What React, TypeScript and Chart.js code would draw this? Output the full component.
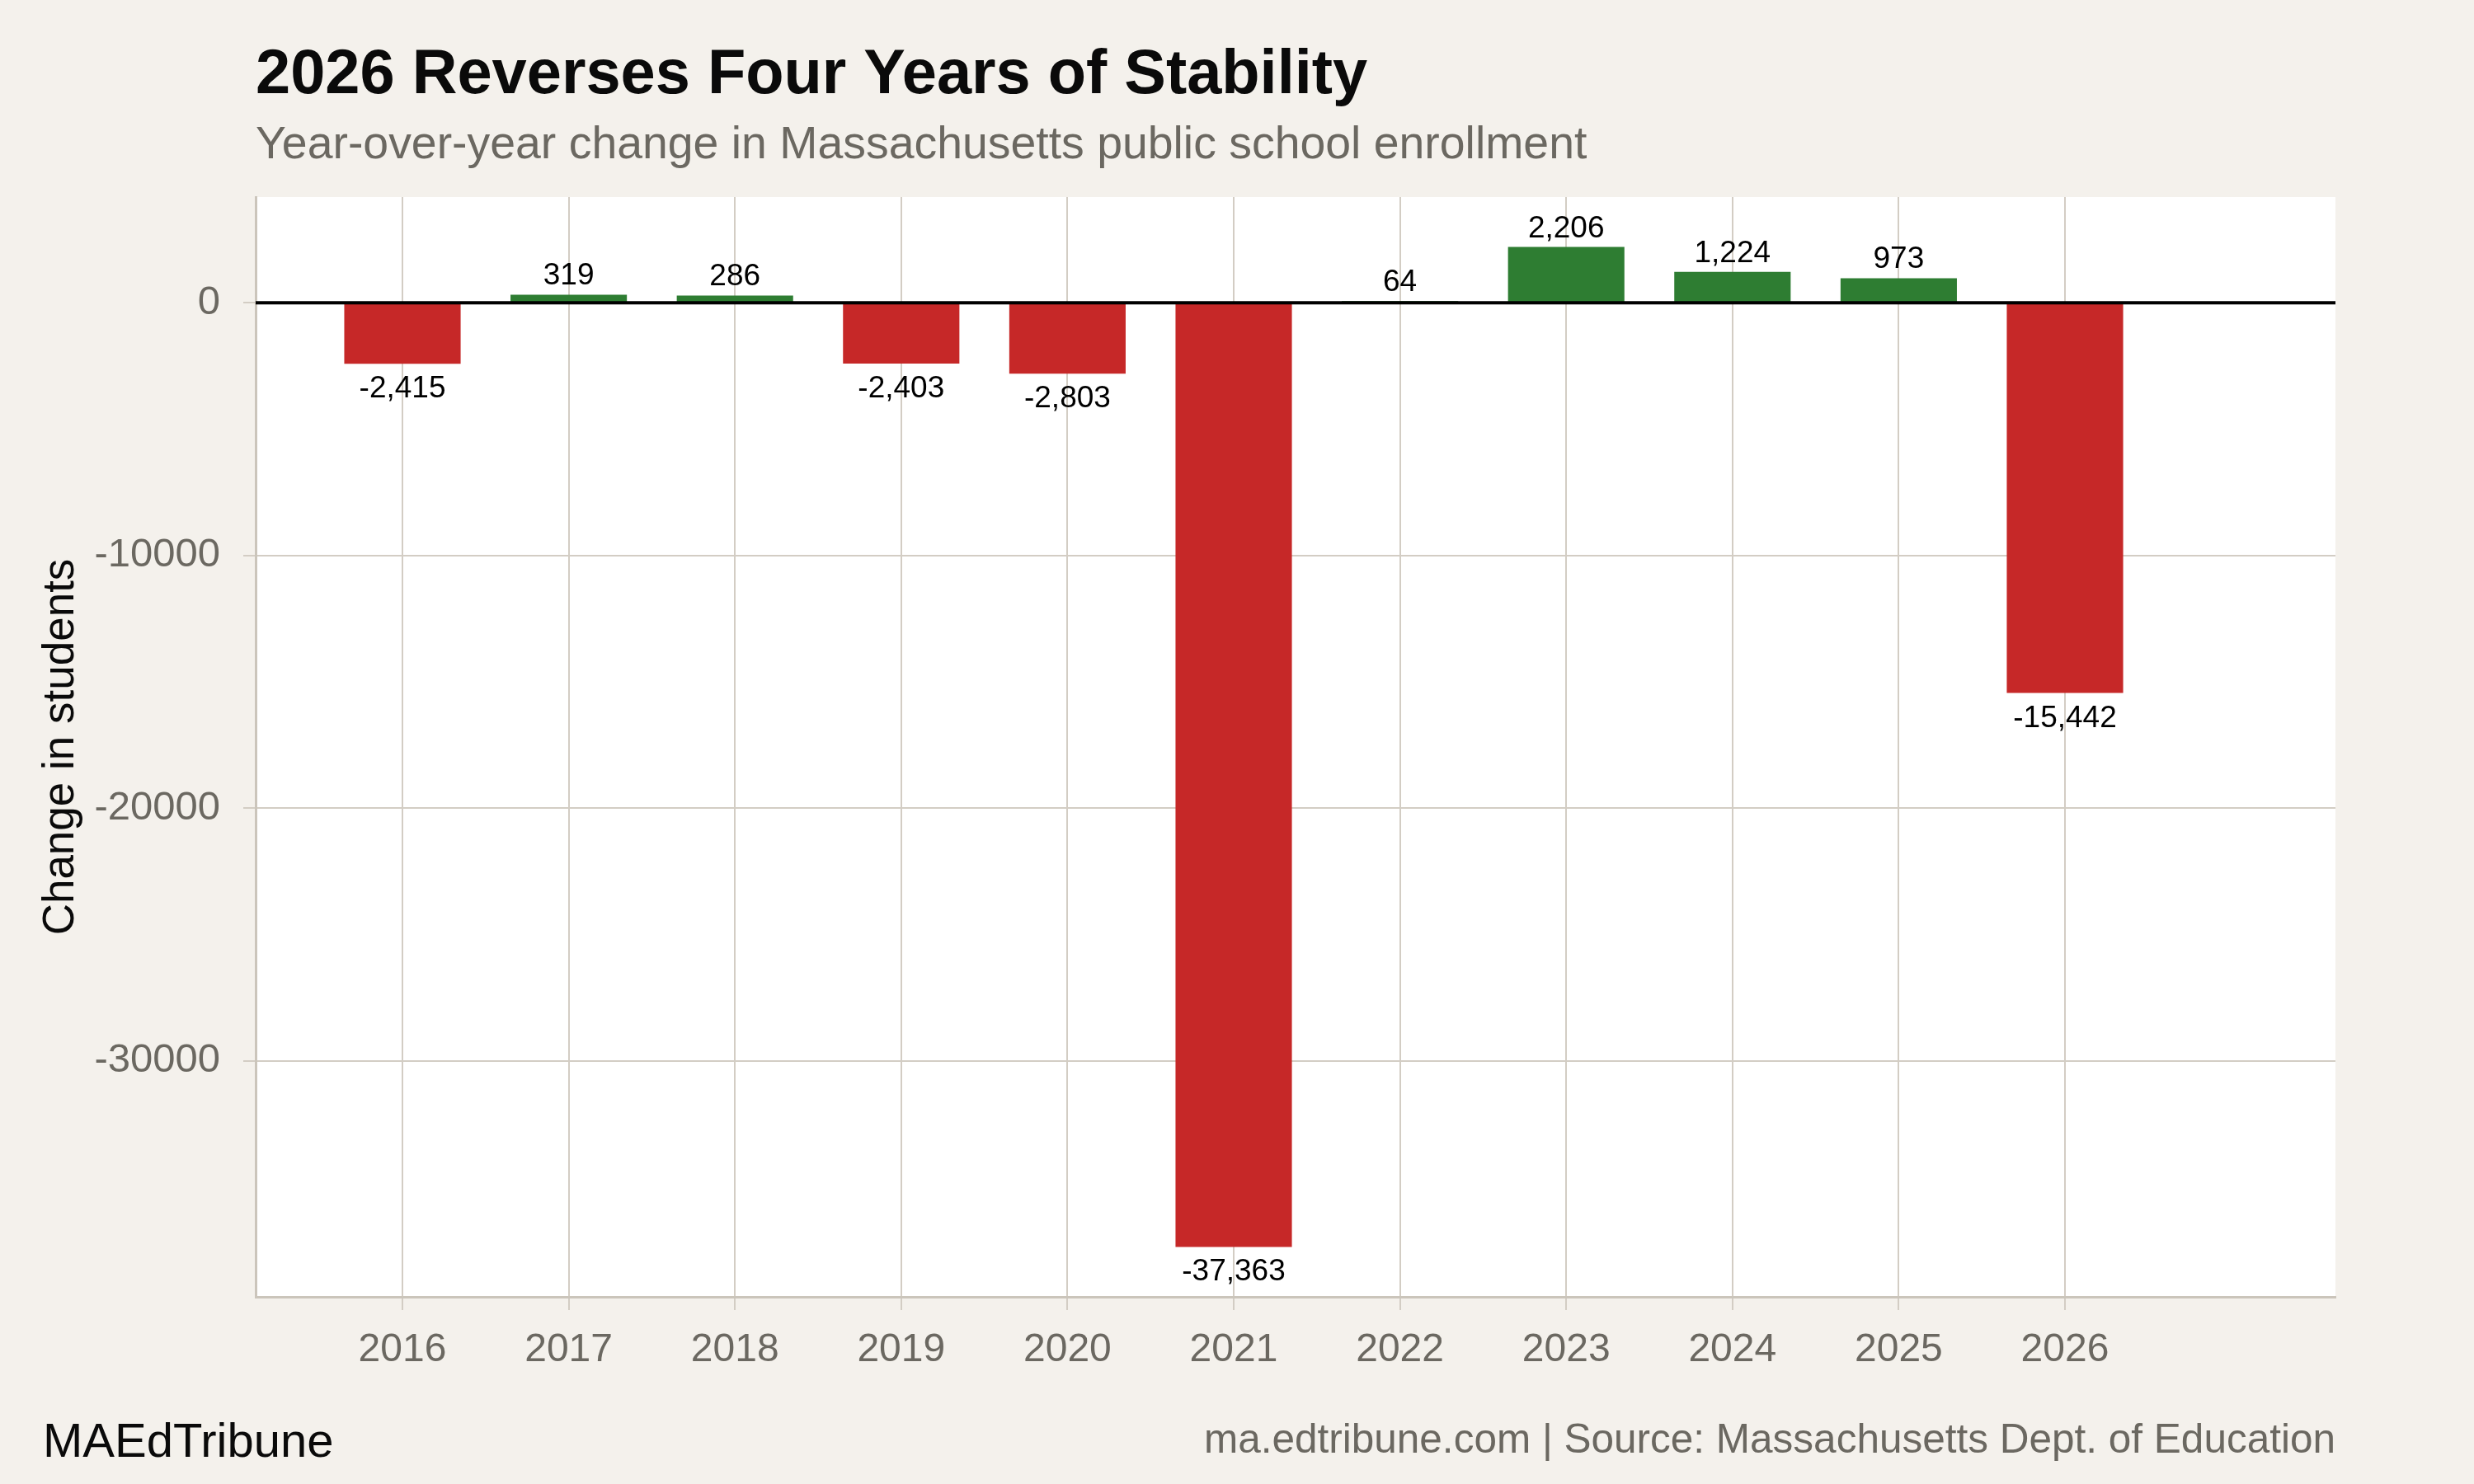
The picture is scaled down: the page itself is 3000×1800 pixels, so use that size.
import { useEffect, useRef } from 'react';
import { Chart, registerables } from 'chart.js';

Chart.register(...registerables);

const years = [2016, 2017, 2018, 2019, 2020, 2021, 2022, 2023, 2024, 2025, 2026];
const changes = [-2415, 319, 286, -2403, -2803, -37363, 64, 2206, 1224, 973, -15442];
const yTicks = [0, -10000, -20000, -30000];

const TITLE = '2026 Reverses Four Years of Stability';
const SUBTITLE = 'Year-over-year change in Massachusetts public school enrollment';
const Y_TITLE = 'Change in students';
const FOOT_LEFT = 'MAEdTribune';
const FOOT_RIGHT = 'ma.edtribune.com | Source: Massachusetts Dept. of Education';

const X_MIN = 2015.117;
const X_MAX = 2027.627;
const Y_MIN = -39341;
const Y_MAX = 4184;

const RED = '#c62828';
const GREEN = '#2e7d32';
const BG = '#f4f1ec';
const GRID = '#d3cdc4';
const AXIS = '#cbc5bb';
const TICK = '#6b6861';
const FONT = '"Liberation Sans", Arial, Helvetica, sans-serif';

const fmt = (v: number) => v.toLocaleString('en-US');

const bgPlugin = {
  id: 'bgPlugin',
  beforeDraw(chart: any) {
    const { ctx, chartArea } = chart;
    ctx.save();
    ctx.fillStyle = BG;
    ctx.fillRect(0, 0, chart.width, chart.height);
    ctx.fillStyle = '#ffffff';
    ctx.fillRect(chartArea.left, chartArea.top, chartArea.right - chartArea.left, chartArea.bottom - chartArea.top);
    ctx.restore();
  },
};

const overlayPlugin = {
  id: 'overlayPlugin',
  afterDatasetsDraw(chart: any) {
    const { ctx, chartArea } = chart;
    const y0 = chart.scales.y.getPixelForValue(0);
    ctx.save();
    ctx.strokeStyle = '#000000';
    ctx.lineWidth = 4;
    ctx.beginPath();
    ctx.moveTo(chartArea.left, y0);
    ctx.lineTo(chartArea.right, y0);
    ctx.stroke();

    const meta = chart.getDatasetMeta(0);
    ctx.fillStyle = '#000000';
    ctx.font = `37px ${FONT}`;
    ctx.textAlign = 'center';
    ctx.textBaseline = 'alphabetic';
    meta.data.forEach((el: any, i: number) => {
      const v = changes[i];
      if (v >= 0) ctx.fillText(fmt(v), el.x, el.y - 12);
      else ctx.fillText(fmt(v), el.x, el.y + 41);
    });
    ctx.restore();
  },
  afterDraw(chart: any) {
    const { ctx, chartArea } = chart;
    ctx.save();
    ctx.textAlign = 'left';
    ctx.textBaseline = 'alphabetic';
    ctx.fillStyle = '#0a0a0a';
    ctx.font = `bold 75.8px ${FONT}`;
    ctx.fillText(TITLE, chartArea.left, 113);
    ctx.fillStyle = TICK;
    ctx.font = `55.4px ${FONT}`;
    ctx.fillText(SUBTITLE, chartArea.left, 192);

    ctx.fillStyle = '#0a0a0a';
    ctx.font = `58px ${FONT}`;
    ctx.fillText(FOOT_LEFT, 52, 1767);

    ctx.fillStyle = TICK;
    ctx.font = `49.5px ${FONT}`;
    ctx.textAlign = 'right';
    ctx.fillText(FOOT_RIGHT, chartArea.right, 1762);

    ctx.save();
    ctx.fillStyle = '#0a0a0a';
    ctx.font = `53px ${FONT}`;
    ctx.textAlign = 'center';
    ctx.translate(89, (chartArea.top + chartArea.bottom) / 2);
    ctx.rotate(-Math.PI / 2);
    ctx.fillText(Y_TITLE, 0, 0);
    ctx.restore();
    ctx.restore();
  },
};

export default function App() {
  const ref = useRef<HTMLCanvasElement>(null);
  useEffect(() => {
    document.body.style.margin = '0';
    const canvas = ref.current;
    if (!canvas) return;
    const chart = new Chart(canvas, {
      type: 'bar',
      data: {
        datasets: [
          {
            data: years.map((x, i) => ({ x, y: changes[i] })),
            backgroundColor: changes.map((v) => (v < 0 ? RED : GREEN)),
            borderWidth: 0,
            barPercentage: 0.7,
            categoryPercentage: 1,
          },
        ],
      },
      options: {
        animation: false,
        responsive: false,
        devicePixelRatio: 1,
        layout: { padding: { top: 239, right: 168, bottom: 0, left: 0 } },
        plugins: {
          legend: { display: false },
          tooltip: { enabled: false },
          title: { display: false },
        },
        scales: {
          x: {
            type: 'linear',
            min: X_MIN,
            max: X_MAX,
            offset: false,
            afterBuildTicks: (s: any) => {
              s.ticks = years.map((v) => ({ value: v }));
            },
            afterFit: (s: any) => {
              s.height = 227;
            },
            grid: { offset: false, color: GRID, lineWidth: 2, tickLength: 16, tickColor: GRID, drawTicks: true },
            border: { display: true, color: AXIS, width: 3 },
            ticks: {
              color: TICK,
              font: { family: FONT, size: 48 },
              padding: 20,
              autoSkip: false,
              maxRotation: 0,
              callback: (v: any) => String(v),
            },
          },
          y: {
            type: 'linear',
            min: Y_MIN,
            max: Y_MAX,
            afterBuildTicks: (s: any) => {
              s.ticks = yTicks.map((v) => ({ value: v }));
            },
            afterFit: (s: any) => {
              s.width = 310;
            },
            grid: { offset: false, color: GRID, lineWidth: 2, tickLength: 15, tickColor: GRID, drawTicks: true },
            border: { display: true, color: AXIS, width: 3 },
            ticks: {
              color: TICK,
              font: { family: FONT, size: 49 },
              padding: 28,
              callback: (v: any) => String(v),
            },
          },
        },
      } as any,
      plugins: [bgPlugin, overlayPlugin],
    });
    return () => chart.destroy();
  }, []);
  return <canvas ref={ref} width={3000} height={1800} style={{ display: 'block' }} />;
}
